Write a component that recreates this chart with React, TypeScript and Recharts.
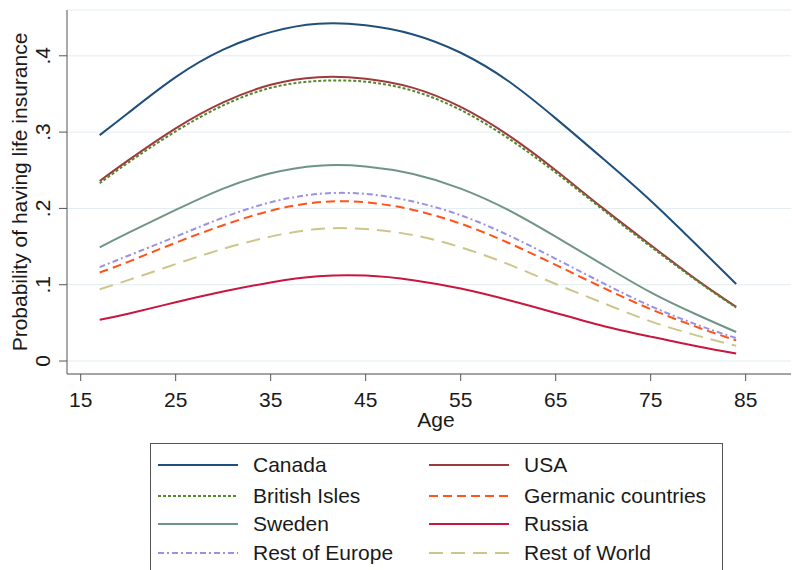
import { CartesianGrid, Line, LineChart, XAxis, YAxis } from "recharts"

const ages = [17, 20, 25, 30, 35, 40, 45, 50, 55, 60, 65, 70, 75, 80, 84]

const canada = [0.296, 0.325, 0.372, 0.408, 0.431, 0.442, 0.44, 0.428, 0.404, 0.367, 0.318, 0.265, 0.21, 0.15, 0.101]
const usa = [0.236, 0.263, 0.305, 0.339, 0.362, 0.372, 0.37, 0.358, 0.333, 0.296, 0.25, 0.2, 0.152, 0.105, 0.071]
const britishIsles = [0.233, 0.26, 0.301, 0.335, 0.358, 0.367, 0.366, 0.354, 0.329, 0.292, 0.247, 0.198, 0.15, 0.104, 0.07]
const germanic = [0.116, 0.13, 0.155, 0.178, 0.197, 0.208, 0.208, 0.198, 0.18, 0.155, 0.126, 0.096, 0.068, 0.044, 0.027]
const sweden = [0.149, 0.168, 0.198, 0.226, 0.246, 0.256, 0.255, 0.245, 0.226, 0.198, 0.163, 0.126, 0.09, 0.06, 0.038]
const russia = [0.054, 0.062, 0.077, 0.091, 0.103, 0.111, 0.112, 0.106, 0.095, 0.08, 0.063, 0.046, 0.032, 0.019, 0.01]
const restEurope = [0.123, 0.138, 0.163, 0.188, 0.208, 0.219, 0.219, 0.209, 0.191, 0.165, 0.134, 0.102, 0.072, 0.047, 0.03]
const restWorld = [0.094, 0.106, 0.127, 0.147, 0.163, 0.173, 0.173, 0.165, 0.149, 0.127, 0.101, 0.076, 0.052, 0.033, 0.02]

const xTicks = [15, 25, 35, 45, 55, 65, 75, 85]
const yTicks = [0, 0.1, 0.2, 0.3, 0.4]

const SERIES = [
  { key: "canada", name: "Canada", values: canada, color: "#1f4f7a", dash: undefined },
  { key: "usa", name: "USA", values: usa, color: "#9e3a3e", dash: undefined },
  { key: "britishIsles", name: "British Isles", values: britishIsles, color: "#55872c", dash: "3 2" },
  { key: "germanic", name: "Germanic countries", values: germanic, color: "#ff5319", dash: "9 5" },
  { key: "sweden", name: "Sweden", values: sweden, color: "#6f9584", dash: undefined },
  { key: "russia", name: "Russia", values: russia, color: "#c8163f", dash: undefined },
  { key: "restEurope", name: "Rest of Europe", values: restEurope, color: "#9a91e6", dash: "6 3 2 3" },
  { key: "restWorld", name: "Rest of World", values: restWorld, color: "#cdc58a", dash: "14 8" },
]

const rows = ages.map((age, i) => {
  const row: Record<string, number> = { age }
  SERIES.forEach((s) => {
    row[s.key] = s.values[i]
  })
  return row
})

const FONT = "Arial, 'Liberation Sans', Helvetica, sans-serif"
const FS = 21
const TEXT = "#1a1a1a"
const AXIS = "#555"

function fmtY(v: number): string {
  if (v === 0) return "0"
  return v.toFixed(1).replace(/^0/, "")
}

function YTick(props: any) {
  const { y, payload } = props
  const cx = 43
  return (
    <text
      x={cx}
      y={y}
      dy="0.35em"
      transform={`rotate(-90, ${cx}, ${y})`}
      textAnchor="middle"
      fontSize={FS}
      fontFamily={FONT}
      fill={TEXT}
    >
      {fmtY(payload.value)}
    </text>
  )
}

function YTitle() {
  return (
    <text
      x={20}
      y={192}
      dy="0.35em"
      transform="rotate(-90, 20, 192)"
      textAnchor="middle"
      fontSize={FS}
      fontFamily={FONT}
      fill={TEXT}
    >
      Probability of having life insurance
    </text>
  )
}

function XTitle() {
  return (
    <text x={436} y={420} dy="0.35em" textAnchor="middle" fontSize={FS} fontFamily={FONT} fill={TEXT}>
      Age
    </text>
  )
}

function LegendBox() {
  const rowY = [21, 52, 80, 109]
  return (
    <div
      style={{
        position: "absolute",
        left: 150,
        top: 443,
        width: 573,
        height: 140,
        border: `1px solid ${AXIS}`,
        boxSizing: "border-box",
        background: "#fff",
      }}
    >
      <svg width={571} height={138}>
        {SERIES.map((s, i) => {
          const col = i % 2
          const r = Math.floor(i / 2)
          const x0 = col === 0 ? 7 : 278
          const y = rowY[r]
          return (
            <g key={s.key}>
              <line
                x1={x0}
                x2={x0 + 80}
                y1={y}
                y2={y}
                stroke={s.color}
                strokeWidth={2}
                strokeDasharray={s.dash}
              />
              <text x={x0 + 95} y={y} dy="0.35em" fontSize={FS} fontFamily={FONT} fill={TEXT}>
                {s.name}
              </text>
            </g>
          )
        })}
      </svg>
    </div>
  )
}

export default function App() {
  return (
    <div
      style={{
        position: "absolute",
        left: 0,
        top: 0,
        width: 792,
        height: 570,
        overflow: "hidden",
        background: "#fff",
      }}
    >
      <LineChart width={792} height={570} data={rows} margin={{ top: 10, right: 1, left: 0, bottom: 0 }}>
        <CartesianGrid stroke="#e2edf1" vertical={false} horizontal={true} />
        <XAxis
          dataKey="age"
          type="number"
          domain={[13.56, 89.77]}
          ticks={xTicks}
          allowDataOverflow
          height={196}
          tickSize={7}
          tickMargin={11}
          tick={{ fontSize: FS, fontFamily: FONT, fill: TEXT }}
          stroke={AXIS}
          tickLine={{ stroke: AXIS }}
          axisLine={{ stroke: AXIS }}
          label={<XTitle />}
        />
        <YAxis
          type="number"
          domain={[-0.017, 0.46]}
          ticks={yTicks}
          allowDataOverflow
          width={67}
          tickSize={8}
          tick={<YTick />}
          stroke={AXIS}
          tickLine={{ stroke: AXIS }}
          axisLine={{ stroke: AXIS }}
          label={<YTitle />}
        />
        {SERIES.map((s) => (
          <Line
            key={s.key}
            type="natural"
            dataKey={s.key}
            name={s.name}
            stroke={s.color}
            strokeWidth={2}
            strokeDasharray={s.dash}
            dot={false}
            activeDot={false}
            isAnimationActive={false}
          />
        ))}
      </LineChart>
      <LegendBox />
    </div>
  )
}
